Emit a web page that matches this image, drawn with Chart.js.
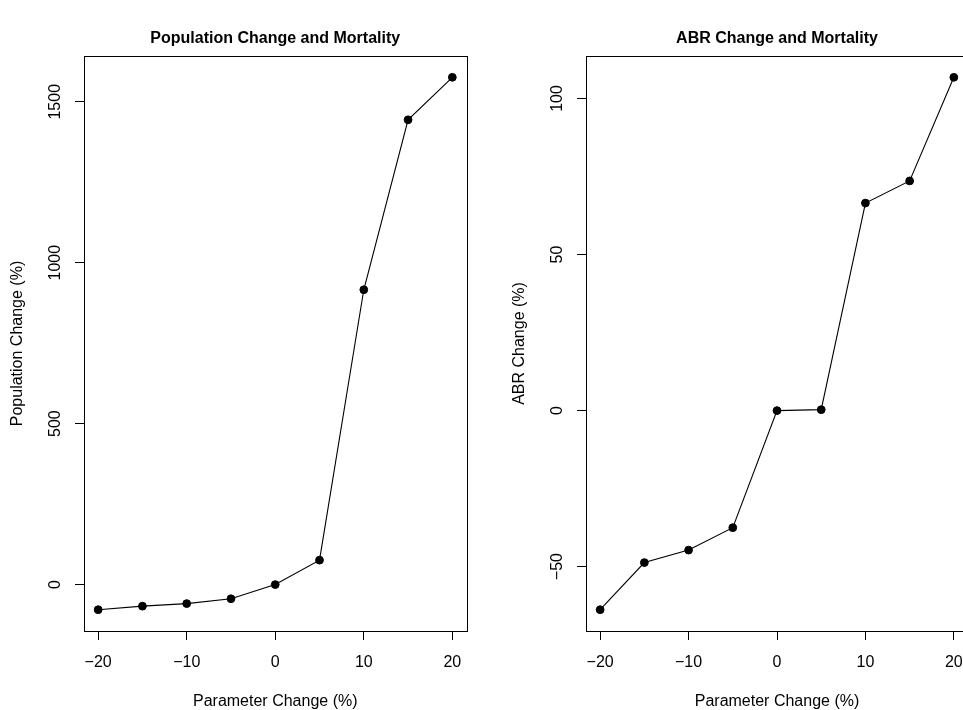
<!DOCTYPE html>
<html>
<head>
<meta charset="utf-8">
<script src="https://cdn.jsdelivr.net/npm/chart.js@4.4.1/dist/chart.umd.min.js"></script>
<style>
  html, body { margin: 0; padding: 0; background: #fff; overflow: hidden; width: 963px; height: 710px; }
  .panel { position: absolute; top: 0; width: 502px; height: 710px; }
  #p1 { left: 0; }
  #p2 { left: 502px; }
</style>
</head>
<body>
<div class="panel" id="p1"><canvas id="c1" width="502" height="710"></canvas></div>
<div class="panel" id="p2"><canvas id="c2" width="502" height="710"></canvas></div>
<script>
// ---- data ----
const paramChange = [-20, -15, -10, -5, 0, 5, 10, 15, 20];
const popChange = [-78, -67, -59, -44, 0, 76, 916, 1444, 1576];
const abrChange = [-63.8, -48.7, -44.7, -37.5, 0, 0.3, 66.5, 73.6, 106.8];

const xTicks = [-20, -10, 0, 10, 20];
const xTickLabels = ["\u221220", "\u221210", "0", "10", "20"];
const popTicks = [0, 500, 1000, 1500];
const popTickLabels = ["0", "500", "1000", "1500"];
const abrTicks = [-50, 0, 50, 100];
const abrTickLabels = ["\u221250", "0", "50", "100"];

const titles = ["Population Change and Mortality", "ABR Change and Mortality"];
const yTitles = ["Population Change (%)", "ABR Change (%)"];
const xTitle = "Parameter Change (%)";

const FONT = "'Liberation Sans', Arial, Helvetica, sans-serif";

// R-like range extension (4%)
function rRange(vals) {
  const lo = Math.min(...vals), hi = Math.max(...vals);
  const d = (hi - lo) * 0.04;
  return [lo - d, hi + d];
}

const boxPlugin = {
  id: 'rbox',
  afterDraw(chart) {
    const a = chart.chartArea, ctx = chart.ctx;
    ctx.save();
    ctx.strokeStyle = '#000';
    ctx.lineWidth = 1;
    ctx.strokeRect(Math.round(a.left) + 0.5, Math.round(a.top) + 0.5,
                   Math.round(a.right - a.left), Math.round(a.bottom - a.top));
    ctx.restore();
  }
};

function makeChart(canvasId, yVals, yTicks, yLabels, title, yTitle, padRight, yLabelPad) {
  const xr = rRange(paramChange);
  const yr = rRange(yVals);
  return new Chart(document.getElementById(canvasId), {
    type: 'line',
    data: {
      datasets: [{
        data: paramChange.map((x, i) => ({ x: x, y: yVals[i] })),
        borderColor: '#000',
        borderWidth: 1.1,
        backgroundColor: '#000',
        pointBackgroundColor: '#000',
        pointBorderColor: '#000',
        pointBorderWidth: 1,
        pointRadius: 3.9,
        tension: 0,
        fill: false
      }]
    },
    options: {
      responsive: false,
      animation: false,
      devicePixelRatio: 1,
      layout: { padding: { left: 0, right: padRight, top: 0, bottom: 0 } },
      plugins: {
        legend: { display: false },
        tooltip: { enabled: false },
        title: {
          display: true,
          text: title,
          fullSize: false,
          color: '#000',
          font: { family: FONT, size: 16, weight: 'bold', lineHeight: 1.2 },
          padding: { top: 28.8, bottom: 8 }
        }
      },
      scales: {
        x: {
          type: 'linear',
          min: xr[0], max: xr[1],
          afterBuildTicks: (s) => { s.ticks = xTicks.map(v => ({ value: v })); },
          afterFit: (s) => { s.height = 79; },
          ticks: {
            color: '#000',
            font: { family: FONT, size: 16, lineHeight: 1.2 },
            padding: 13.4,
            maxRotation: 0, minRotation: 0,
            autoSkip: false,
            callback: (v, i) => xTickLabels[i]
          },
          grid: { display: true, drawOnChartArea: false, drawTicks: true, tickLength: 9, color: '#000', lineWidth: 1 },
          border: { display: false },
          title: {
            display: true,
            text: xTitle,
            color: '#000',
            font: { family: FONT, size: 16, lineHeight: 1.0 },
            padding: { top: 0, bottom: 0.5 }
          }
        },
        y: {
          type: 'linear',
          min: yr[0], max: yr[1],
          afterBuildTicks: (s) => { s.ticks = yTicks.map(v => ({ value: v })); },
          afterFit: (s) => { s.width = 84; },
          ticks: {
            color: '#000',
            font: { family: FONT, size: 16, lineHeight: 1.2 },
            padding: yLabelPad,
            minRotation: 90, maxRotation: 90,
            crossAlign: 'center',
            autoSkip: false,
            callback: (v, i) => yLabels[i]
          },
          grid: { display: true, drawOnChartArea: false, drawTicks: true, tickLength: 9, color: '#000', lineWidth: 1 },
          border: { display: false },
          title: {
            display: true,
            text: yTitle,
            color: '#000',
            font: { family: FONT, size: 16, lineHeight: 1.2 },
            padding: { top: 8.4, bottom: 0 }
          }
        }
      }
    },
    plugins: [boxPlugin]
  });
}

makeChart('c1', popChange, popTicks, popTickLabels, titles[0], yTitles[0], 35.5, 1.7);
makeChart('c2', abrChange, abrTicks, abrTickLabels, titles[1], yTitles[1], 36, 5.9);
</script>
</body>
</html>
